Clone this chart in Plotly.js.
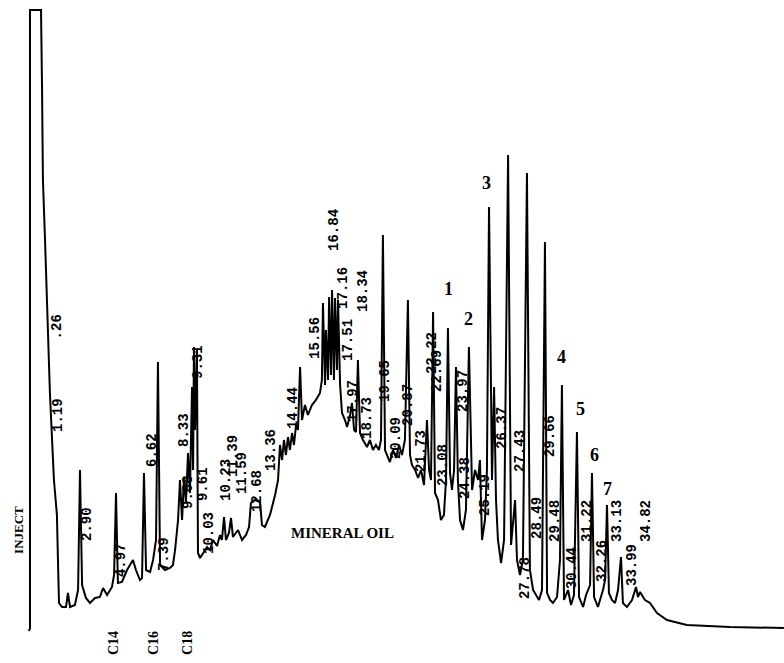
<!DOCTYPE html>
<html>
<head>
<meta charset="utf-8">
<script src="https://cdn.plot.ly/plotly-3.0.1.min.js"></script>
<style>html,body{margin:0;padding:0;background:#fff;}#chart{width:784px;height:663px;}</style>
</head>
<body>
<div id="chart"></div>
<script>
// Retention time (min) and detector response (arbitrary units)
const retentionTime = [-0.02,0.04,0.04,0.67,0.73,0.78,0.90,1.01,1.18,1.41,1.58,1.64,1.70,1.87,2.10,2.21,2.33,2.61,2.79,2.90,
3.02,3.24,3.47,3.76,4.04,4.22,4.45,4.73,4.85,4.96,5.07,5.30,5.59,5.93,6.10,6.33,6.45,6.56,6.68,6.91,
7.08,7.25,7.36,7.48,7.76,8.05,8.22,8.34,8.51,8.62,8.74,8.85,8.96,9.08,9.19,9.31,9.37,9.42,9.48,9.59,
9.65,9.77,9.94,10.17,10.34,10.51,10.74,10.91,11.02,11.14,11.25,11.42,11.54,11.65,11.94,12.17,12.40,12.57,12.68,12.91,
13.20,13.31,13.48,13.77,14.06,14.23,14.34,14.46,14.57,14.68,14.80,14.91,15.03,15.14,15.26,15.37,15.49,15.60,15.77,15.94,
16.17,16.40,16.63,16.74,16.80,16.92,16.97,17.09,17.15,17.26,17.32,17.43,17.49,17.60,17.66,17.78,17.89,18.06,18.18,18.35,
18.46,18.58,18.69,18.80,18.92,19.09,19.32,19.49,19.66,19.83,20.00,20.12,20.23,20.35,20.46,20.63,20.81,20.98,21.15,21.32,
21.49,21.66,21.78,21.89,22.07,22.24,22.41,22.58,22.75,22.87,22.98,23.10,23.21,23.38,23.55,23.72,23.84,23.95,24.07,24.18,
24.30,24.41,24.52,24.64,24.81,24.98,25.15,25.33,25.50,25.67,25.78,25.90,26.07,26.18,26.30,26.47,26.59,26.70,26.81,26.99,
27.16,27.39,27.56,27.67,27.79,27.90,28.07,28.24,28.47,28.64,28.82,28.99,29.16,29.33,29.50,29.62,29.79,29.96,30.19,30.36,
30.47,30.59,30.82,30.99,31.16,31.33,31.45,31.68,31.85,32.08,32.19,32.31,32.53,32.82,32.94,33.05,33.16,33.33,33.51,33.68,
33.85,33.96,34.19,34.48,34.71,34.82,34.94,35.22,35.51,35.91,36.48,37.62,40.08,43.17];
const response = [-1,2,620,620,540,450,390,333,237,150,115,70,27,23,23,37,23,25,40,160,
45,32,27,32,33,42,35,43,55,137,47,48,60,70,60,50,52,157,60,58,
70,90,268,65,60,62,65,80,110,150,110,153,127,177,137,243,160,283,200,280,
77,72,77,83,80,90,84,95,90,113,90,97,112,93,100,90,95,103,127,130,
128,105,103,115,135,150,185,170,190,175,193,180,197,185,205,200,263,210,225,215,
225,230,237,250,327,245,300,250,333,255,340,250,332,260,330,245,217,210,203,215,
227,200,198,270,197,190,183,190,180,185,180,190,395,180,175,168,180,172,185,175,
190,330,175,165,160,152,160,145,210,160,150,318,137,130,110,115,150,302,157,140,
160,263,150,110,100,120,283,140,160,150,170,90,110,160,423,150,243,130,90,67,
90,475,85,110,130,70,55,70,457,60,40,35,30,40,388,37,30,27,33,70,
245,30,40,25,35,198,33,23,35,45,157,33,23,40,50,125,37,30,27,40,
73,27,23,30,43,33,38,30,27,17,10,5,3,2];

// Retention-time labels printed on the trace
const rtLabels = [".26","1.19","2.90","4.97","6.62","7.39","8.33","9.08","9.31","9.61","10.03","10.23","11.39","11.59","12.68","13.36","14.44","15.56","16.84","17.16","17.51","17.97","18.34","18.73","19.65","20.09","20.87","21.73","22.22","22.69","23.08","23.97","24.38","25.19","26.37","27.43","27.78","28.49","29.66","29.48","30.44","31.22","32.26","33.13","33.99","34.82"];
const rtLabelTime = [1.58,1.64,3.30,5.25,7.02,7.71,8.85,9.08,9.65,9.94,10.28,11.25,11.65,12.17,13.03,13.83,15.09,16.34,17.43,17.94,18.23,18.52,19.09,19.32,20.35,20.98,21.66,22.41,23.04,23.32,23.67,24.81,24.93,26.07,27.04,28.07,28.36,29.04,29.79,30.07,31.05,31.90,32.76,33.62,34.48,35.28];
const rtLabelBase = [290,197,88,52,162,58,182,120,250,128,75,128,152,135,117,158,200,270,378,320,268,207,317,190,227,170,203,157,255,237,143,217,130,113,180,157,30,90,172,87,40,87,47,87,43,87];

// Numbered peaks
const peakNumbers = ["1","2","3","4","5","6","7"];
const peakNumTime = [24.01,25.15,26.18,30.47,31.56,32.36,33.05];
const peakNumResp = [341,311,447,273,221,175,141];

// Carbon markers
const carbonLabels = ["C14","C16","C18"];
const carbonTime = [4.79,7.08,9.02];

const annotations = [];
rtLabels.forEach((t,i)=>{
  annotations.push({x:rtLabelTime[i], y:rtLabelBase[i], xref:'x', yref:'y', text:t, showarrow:false,
    textangle:-90, xanchor:'center', yanchor:'bottom', borderpad:0,
    font:{family:'Liberation Mono, DejaVu Sans Mono, monospace', size:14, color:'#000', weight:'bold'}});
});
peakNumbers.forEach((t,i)=>{
  annotations.push({x:peakNumTime[i], y:peakNumResp[i], xref:'x', yref:'y', text:t, showarrow:false,
    xanchor:'center', yanchor:'middle', borderpad:0,
    font:{family:'Liberation Serif, serif', size:18, color:'#000', weight:'bold'}});
});
carbonLabels.forEach((t,i)=>{
  annotations.push({x:carbonTime[i], y:-13, xref:'x', yref:'y', text:t, showarrow:false,
    textangle:-90, xanchor:'center', yanchor:'middle', borderpad:0,
    font:{family:'Liberation Serif, serif', size:14, color:'#000', weight:'bold'}});
});
annotations.push({x:17.90, y:97, xref:'x', yref:'y', text:'MINERAL OIL', showarrow:false,
  xanchor:'center', yanchor:'middle', font:{family:'Liberation Serif, serif', size:15, color:'#000', weight:'bold'}});
annotations.push({x:-0.65, y:100, xref:'x', yref:'y', text:'INJECT', showarrow:false, textangle:-90,
  xanchor:'center', yanchor:'middle', font:{family:'Liberation Serif, serif', size:13, color:'#000', weight:'bold'}});

const trace = {x:retentionTime, y:response, type:'scatter', mode:'lines',
  line:{color:'#000', width:2, shape:'linear'}, hoverinfo:'skip'};

const layout = {
  width:784, height:663,
  margin:{l:0,r:0,t:0,b:0},
  paper_bgcolor:'#fff', plot_bgcolor:'#fff',
  showlegend:false,
  xaxis:{range:[-1.676,43.175], visible:false, fixedrange:true},
  yaxis:{range:[-33,630], visible:false, fixedrange:true},
  annotations:annotations
};
Plotly.newPlot('chart',[trace],layout,{staticPlot:true, displayModeBar:false});
</script>
</body>
</html>
